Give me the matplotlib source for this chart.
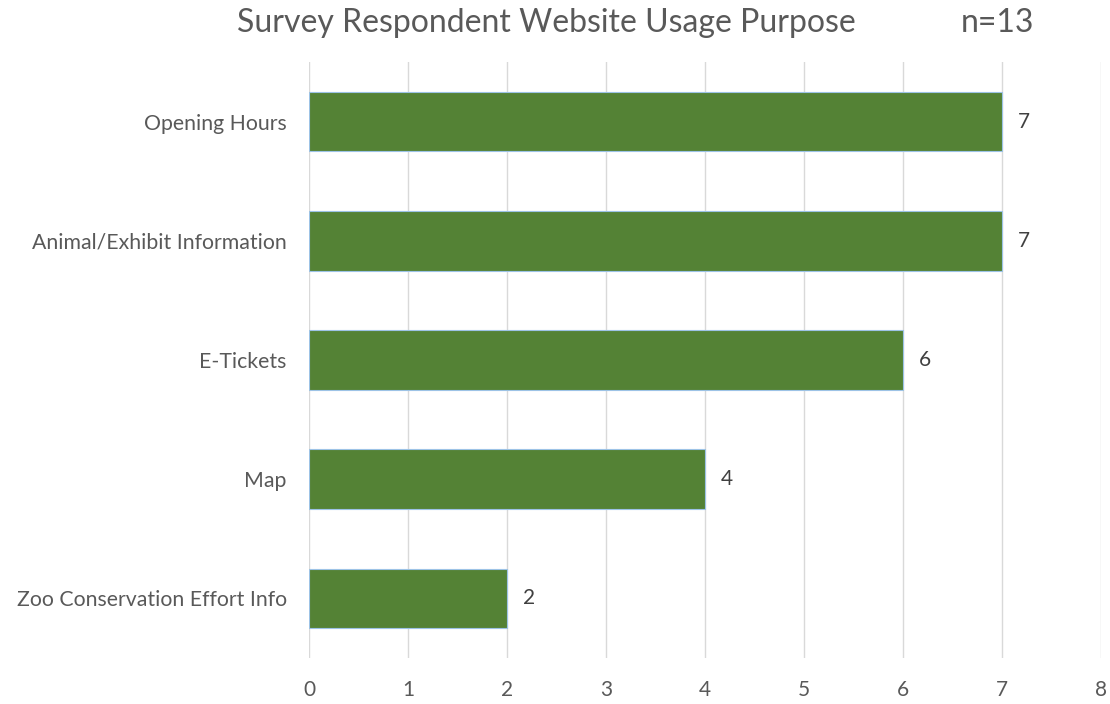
import matplotlib.pyplot as plt

categories = ['Opening Hours', 'Animal/Exhibit Information', 'E-Tickets', 'Map',
              'Zoo Conservation Effort Info']
counts = [7, 7, 6, 4, 2]
xticks = [0, 1, 2, 3, 4, 5, 6, 7, 8]

plt.rcParams['font.family'] = ['Lato', 'DejaVu Sans']
grey = '#595959'

fig = plt.figure(figsize=(11.1, 7.04), dpi=100)
ax = fig.add_axes([0.2784, 0.0653, 0.7135, 0.8466])

pos = list(range(len(categories)))
ax.barh(pos, counts, height=0.5, color='#548235', edgecolor='#9DC3E6',
        linewidth=0.8, zorder=3)
for p, c in zip(pos, counts):
    ax.text(c + 0.16, p, str(c), va='center', ha='left', fontsize=15, color='#404040')

ax.set_ylim(len(categories) - 0.5, -0.5)
ax.set_xlim(0, 8)
ax.set_yticks(pos)
ax.set_yticklabels(categories, fontsize=15.3, color=grey)
ax.set_xticks(xticks)
ax.set_xticklabels([str(t) for t in xticks], fontsize=15, color=grey)
ax.tick_params(axis='both', length=0)
ax.tick_params(axis='x', pad=16)
ax.tick_params(axis='y', pad=16)
ax.grid(axis='x', color='#D9D9D9', linewidth=1.0, zorder=0)
for s in ax.spines.values():
    s.set_visible(False)

fig.text(0.492, 0.968, 'Survey Respondent Website Usage Purpose', ha='center',
         va='center', fontsize=23, color=grey)
fig.text(0.899, 0.968, 'n=13', ha='center', va='center', fontsize=23, color=grey)

fig.savefig('out.png', dpi=100)
